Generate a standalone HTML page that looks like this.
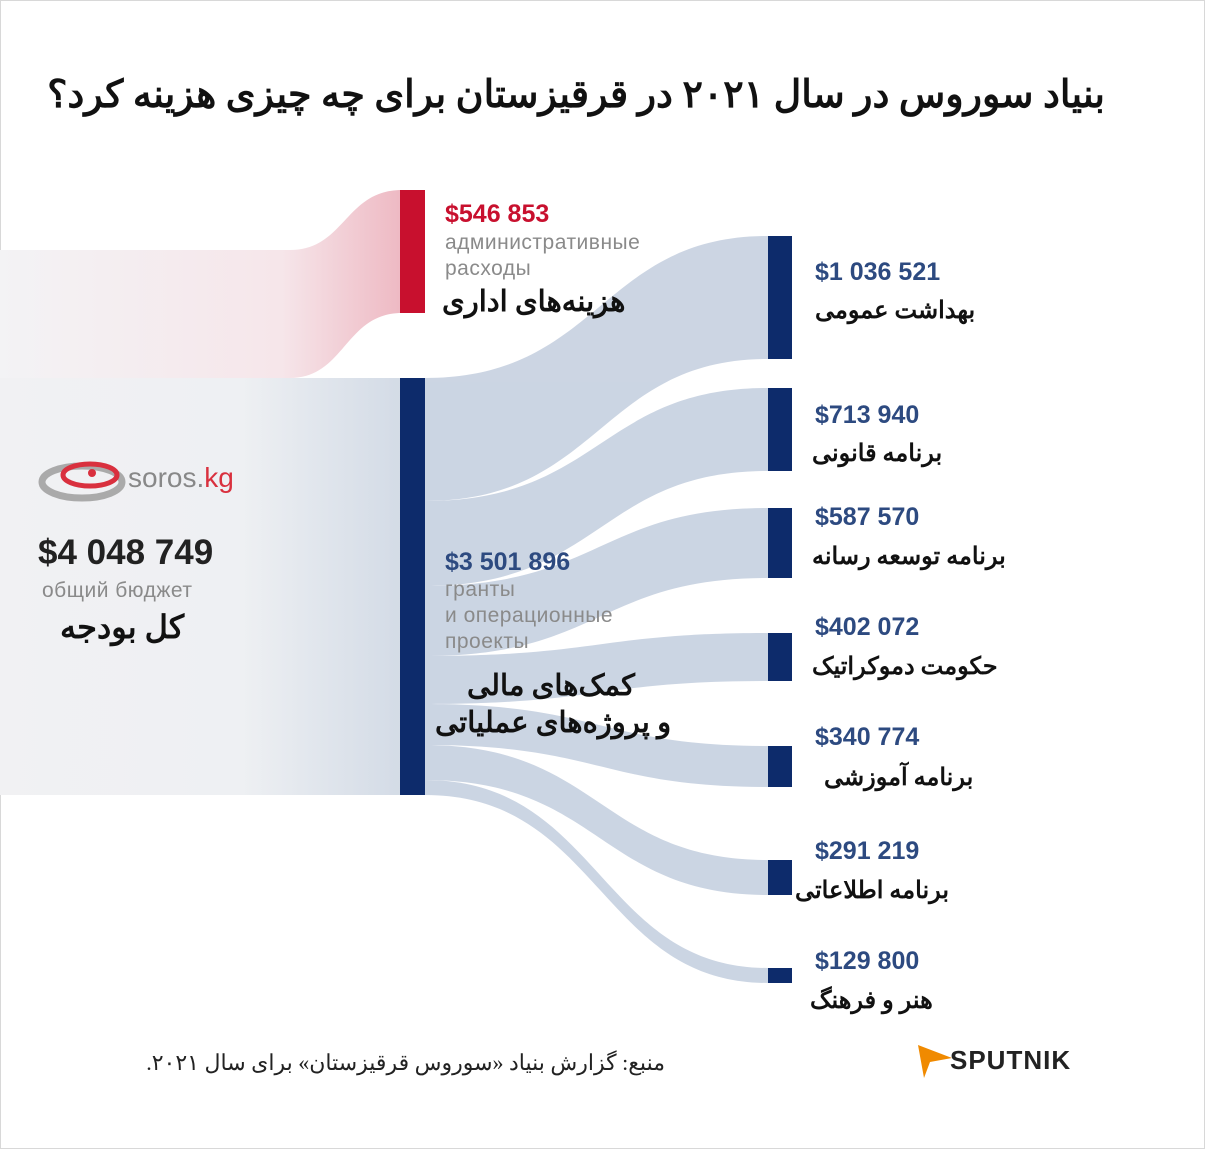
<!DOCTYPE html>
<html><head><meta charset="utf-8"><style>
body{margin:0;background:#fff;}
#c{position:relative;width:1205px;height:1149px;overflow:hidden;background:#fff;font-family:"Liberation Sans","Noto Sans CJK SC",sans-serif;}
.t{position:absolute;white-space:nowrap;}
.fa{font-family:"Liberation Serif","Noto Serif CJK SC","Noto Sans CJK SC",serif;font-weight:bold;direction:rtl;color:#111;}
.num{font-weight:bold;color:#2d4a80;font-size:25px;}
.ru{color:#8a8a8a;font-size:21px;line-height:26px;letter-spacing:0.5px;}
</style></head><body><div id="c">
<svg width="1205" height="1149" style="position:absolute;left:0;top:0">
<defs>
<linearGradient id="lg" x1="0" x2="1"><stop offset="0" stop-color="#f1f1f3"/><stop offset="0.6" stop-color="#eef0f3"/><stop offset="1" stop-color="#d3dbe6"/></linearGradient>
<linearGradient id="rg" x1="0" x2="1"><stop offset="0" stop-color="#f3f3f5"/><stop offset="0.7" stop-color="#f6e6ea"/><stop offset="1" stop-color="#eeb9c3"/></linearGradient>
</defs>
<rect x="0.5" y="0.5" width="1204" height="1148" fill="none" stroke="#d8d8d8"/>
<rect x="0" y="378" width="402" height="417" fill="url(#lg)"/>
<path d="M0 250 L290 250 C345 250 345 190 402 190 L402 313 C345 313 345 378 290 378 L0 378 Z" fill="url(#rg)"/>
<g fill="#c9d3e2" opacity="0.95">
<path d="M425 378 C600 378 600 236 768 236 L768 359 C600 359 600 501 425 501 Z"/>
<path d="M425 501 C600 501 600 388 768 388 L768 471 C600 471 600 586 425 586 Z"/>
<path d="M425 586 C600 586 600 508 768 508 L768 578 C600 578 600 656 425 656 Z"/>
<path d="M425 656 C600 656 600 633 768 633 L768 681 C600 681 600 704 425 704 Z"/>
<path d="M425 704 C600 704 600 746 768 746 L768 787 C600 787 600 745 425 745 Z"/>
<path d="M425 745 C600 745 600 860 768 860 L768 895 C600 895 600 780 425 780 Z"/>
<path d="M425 780 C600 780 600 968 768 968 L768 983 C600 983 600 795 425 795 Z"/>
</g>
<rect x="400" y="190" width="25" height="123" fill="#c8102e"/>
<rect x="400" y="378" width="25" height="417" fill="#0d2b6b"/>
<g fill="#0d2b6b">
<rect x="768" y="236" width="24" height="123"/>
<rect x="768" y="388" width="24" height="83"/>
<rect x="768" y="508" width="24" height="70"/>
<rect x="768" y="633" width="24" height="48"/>
<rect x="768" y="746" width="24" height="41"/>
<rect x="768" y="860" width="24" height="35"/>
<rect x="768" y="968" width="24" height="15"/>
</g>
<g transform="translate(82,482)">
<ellipse cx="0" cy="0" rx="40" ry="16" fill="none" stroke="#aaa" stroke-width="7"/>
<ellipse cx="8" cy="-7" rx="27" ry="11" fill="none" stroke="#d9303e" stroke-width="5"/>
<circle cx="10" cy="-9" r="4" fill="#d9303e"/>
</g>
<path d="M918 1045 L952 1058 L930 1062 L924 1078 Z" fill="#f08a00"/>
</svg>
<div class="t fa" style="right:100px;top:72px;font-size:38px;">بنیاد سوروس در سال ۲۰۲۱ در قرقیزستان برای چه چیزی هزینه کرد؟</div>
<div class="t" style="left:128px;top:462px;font-size:28px;color:#888;">soros.<span style="color:#d9303e">kg</span></div>
<div class="t" style="left:38px;top:533px;font-size:35px;font-weight:bold;color:#222;">$4 048 749</div>
<div class="t ru" style="left:42px;top:578px;">общий бюджет</div>
<div class="t fa" style="left:60px;top:608px;font-size:32px;">کل بودجه</div>
<div class="t num" style="left:445px;top:200px;color:#c8102e;">$546 853</div>
<div class="t ru" style="left:445px;top:230px;">административные<br>расходы</div>
<div class="t fa" style="left:442px;top:284px;font-size:29px;">هزینه‌های اداری</div>
<div class="t num" style="left:445px;top:548px;">$3 501 896</div>
<div class="t ru" style="left:445px;top:577px;">гранты<br>и операционные<br>проекты</div>
<div class="t fa" style="left:467px;top:668px;font-size:29px;">کمک‌های مالی</div>
<div class="t fa" style="left:435px;top:705px;font-size:29px;">و پروژه‌های عملیاتی</div>
<div class="t num" style="left:815px;top:258px;">$1 036 521</div>
<div class="t fa" style="left:815px;top:296px;font-size:24px;">بهداشت عمومی</div>
<div class="t num" style="left:815px;top:401px;">$713 940</div>
<div class="t fa" style="left:812px;top:439px;font-size:24px;">برنامه قانونی</div>
<div class="t num" style="left:815px;top:503px;">$587 570</div>
<div class="t fa" style="left:812px;top:542px;font-size:24px;">برنامه توسعه رسانه</div>
<div class="t num" style="left:815px;top:613px;">$402 072</div>
<div class="t fa" style="left:812px;top:652px;font-size:24px;">حکومت دموکراتیک</div>
<div class="t num" style="left:815px;top:723px;">$340 774</div>
<div class="t fa" style="left:824px;top:763px;font-size:24px;">برنامه آموزشی</div>
<div class="t num" style="left:815px;top:837px;">$291 219</div>
<div class="t fa" style="left:795px;top:876px;font-size:24px;">برنامه اطلاعاتی</div>
<div class="t num" style="left:815px;top:947px;">$129 800</div>
<div class="t fa" style="left:810px;top:986px;font-size:24px;">هنر و فرهنگ</div>
<div class="t" style="right:540px;top:1050px;font-size:22px;direction:rtl;font-family:'Liberation Serif','Noto Serif CJK SC',serif;color:#222;">منبع: گزارش بنیاد «سوروس قرقیزستان» برای سال ۲۰۲۱.</div>
<div class="t" style="left:950px;top:1045px;font-size:26px;font-weight:bold;color:#222;letter-spacing:1px;">SPUTNIK</div>
</div></body></html>
